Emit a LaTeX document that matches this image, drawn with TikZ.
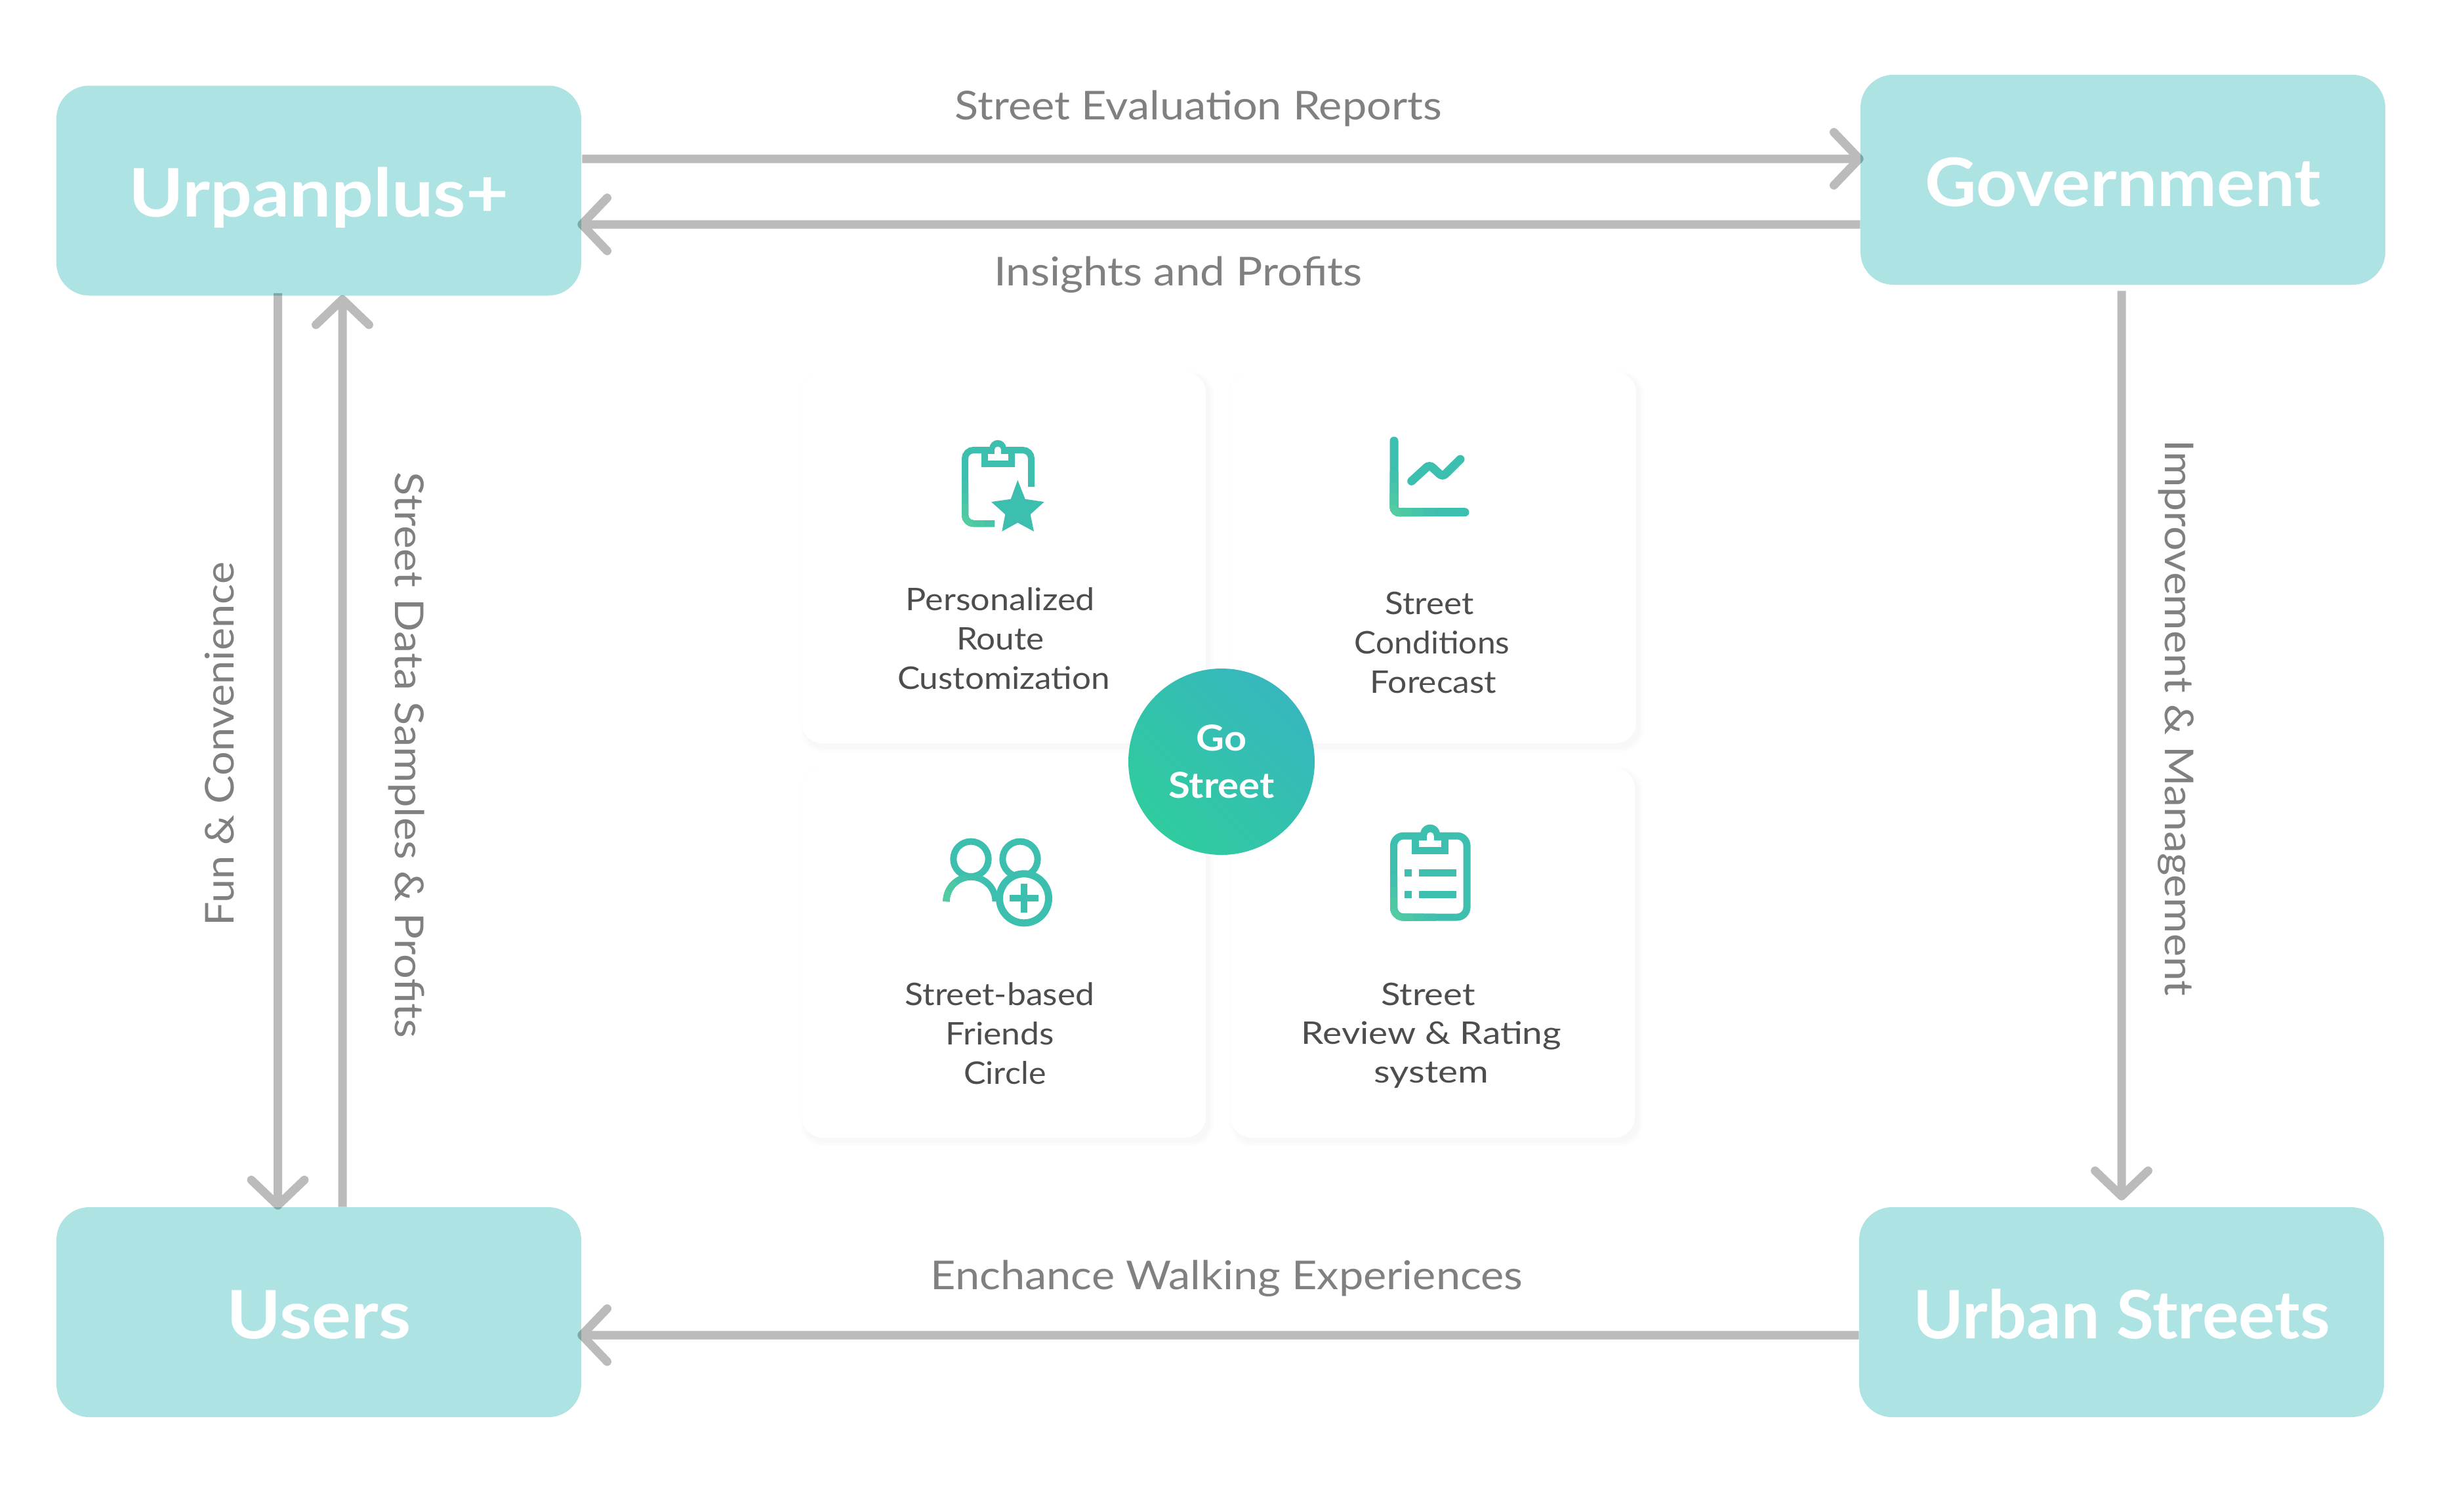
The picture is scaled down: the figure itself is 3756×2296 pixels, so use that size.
\documentclass[tikz,border=0pt]{standalone}
\usepackage{fontspec}
\setmainfont{Lato}
\usetikzlibrary{arrows.meta,calc}
\newlength\pxu \setlength\pxu{0.02cm}
\definecolor{boxfill}{HTML}{AEE3E3}
\definecolor{labelgray}{HTML}{808080}
\definecolor{cardtext}{HTML}{4D4D4D}
\definecolor{icon}{HTML}{3DBFB0}
\definecolor{ic1}{HTML}{41C1AD}
\definecolor{ic2}{HTML}{46C4A9}
\definecolor{ic3}{HTML}{4CC8A5}
\definecolor{ic4}{HTML}{53CCA1}
\definecolor{circA}{HTML}{37B7BE}
\definecolor{circB}{HTML}{2FCC9E}
\newcommand\pad[1]{\hspace*{#1\pxu}}
\newcommand\st[1]{\addfontfeatures{FakeStretch=#1}}
\newcommand\glow[3]{\foreach \r/\c in {70/ic1,52/ic2,35/ic3,18/ic4}{\begin{scope}\clip (#1,#2) circle[radius=\r];\draw[iconline,draw=\c] #3;\end{scope}}}
\tikzset{
  actor/.style={fill=boxfill,rounded corners=50\pxu,minimum width=800\pxu,minimum height=320\pxu,inner sep=0pt,text=white,
    font=\fontsize{58}{60}\selectfont\bfseries,text depth=0pt},
  flow/.style={line width=13\pxu,draw=black,-{Straight Barb[length=22pt,width=46pt,line cap=round,round]}},
  flowlabel/.style={text=labelgray,inner sep=0pt,font=\fontsize{34.5}{36}\selectfont},
  card/.style={fill=white,rounded corners=32\pxu,inner sep=0pt},
  cardlabel/.style={text=cardtext,inner sep=0pt,align=center,font=\fontsize{27}{34}\selectfont},
  hub/.style={circle,minimum size=284\pxu,inner sep=0pt,top color=circA,bottom color=circB,shading angle=-45,text=white,align=center,
    font=\fontsize{31}{41}\selectfont\bfseries},
  iconline/.style={draw=icon,line width=10\pxu,rounded corners=13\pxu},
  iconfill/.style={fill=icon,draw=none},
  iconhole/.style={fill=white,draw=none},
}
\newcommand\cardshadow[4]{\foreach \s in {1,...,7}{\fill[black,opacity=.0055,rounded corners=32\pxu] (#1+5-\s,#2+6-\s) rectangle (#3+5+\s,#4+6+\s);}}
\begin{document}
\begin{tikzpicture}[x=0.02cm,y=-0.02cm]
\useasboundingbox (0,0) rectangle (3756,2296);
\fill[white] (0,0) rectangle (3756,2296);

% cards
\cardshadow{1222}{567}{1838}{1133}
\cardshadow{1875}{567}{2494}{1133}
\cardshadow{1222}{1170}{1838}{1734}
\cardshadow{1876}{1170}{2492}{1734}
\node[card,minimum width=616\pxu,minimum height=566\pxu] (c1) at (1530,850) {};
\node[card,minimum width=619\pxu,minimum height=566\pxu] (c2) at (2184.5,850) {};
\node[card,minimum width=616\pxu,minimum height=564\pxu] (c3) at (1530,1452) {};
\node[card,minimum width=616\pxu,minimum height=564\pxu] (c4) at (2184,1452) {};

% card texts
\node[cardlabel,anchor=base] (t1) at (1525,1050) {\st{1.10}Personalized\\\st{1.08}Route\\\st{1.08}\pad{10}Customization};
\node[cardlabel,anchor=base] (t2) at (2183,1056) {\st{1.08}\pad{-8}Street\\\st{1.05}Conditions\\\st{1.09}\pad{4}Forecast};
\node[cardlabel,anchor=base] (t3) at (1524,1652) {\st{1.09}Street-based\\\st{1.09}Friends\\\st{1.06}\pad{16}Circle};
\node[cardlabel,anchor=base,font=\fontsize{27}{33.5}\selectfont] (t4) at (2182,1650) {\st{1.15}\pad{-10}Street\\\st{1.16}Review \& Rating\\\st{1.2}system};

% icon 1: clipboard with star
\draw[iconline] (1516,798) -- (1471,798) -- (1471,686) -- (1572,686) -- (1572,742);
\glow{1466}{803}{(1516,798) -- (1471,798) -- (1471,686) -- (1572,686) -- (1572,742)}
\fill[iconfill] (1496,686) rectangle (1547,712);
\fill[iconfill] (1521,683.5) circle[radius=12.8];
\fill[iconhole] (1505.7,691.7) rectangle (1536.7,701.7);
\fill[iconhole] (1516,685.7) rectangle (1526,692);
\fill[iconhole] (1521,685.7) circle[radius=5];
\fill[iconfill] (1551.3,731.7) -- (1562.7,760.7) -- (1591.7,765) -- (1570.7,784) -- (1576,810) -- (1551.3,796.7)
  -- (1527.3,810) -- (1532.3,784) -- (1511,765) -- (1540.7,760.7) -- cycle;

% icon 2: chart
\draw[iconline,line width=13\pxu,line cap=round,rounded corners=8\pxu] (2125,672) -- (2125,780.7) -- (2233,780.7);
\glow{2118}{787}{[line width=13\pxu,line cap=round,rounded corners=8\pxu] (2125,672) -- (2125,780.7) -- (2233,780.7)}
\draw[iconline,line width=13\pxu,line cap=round,rounded corners=6\pxu] (2151.7,733.3) -- (2179,708.3) -- (2199,726.7) -- (2226,700);

% icon 3: friends
\draw[iconline,rounded corners=0pt] (1480,1309.3) circle[radius=26.7];
\draw[iconline,rounded corners=0pt] (1555,1309.3) circle[radius=26.7];
\draw[iconline,rounded corners=0pt] (1442.5,1374) arc[start angle=180,end angle=360,radius=37.5];
\glow{1437}{1374}{[rounded corners=0pt] (1442.5,1374) arc[start angle=180,end angle=360,radius=37.5]}
\draw[iconline,rounded corners=0pt,line width=11\pxu,fill=white] (1561,1369.3) circle[radius=37.5];
\fill[iconfill] (1539.3,1364) rectangle (1582.7,1374);
\fill[iconfill] (1556,1347.3) rectangle (1566,1390.7);

% icon 4: clipboard with list
\draw[iconline,line width=11\pxu,rounded corners=15\pxu] (2180,1274) -- (2236,1274) -- (2236,1398) -- (2124.5,1398) -- (2124.5,1274) -- cycle;
\glow{2119}{1403}{[line width=11\pxu,rounded corners=15\pxu] (2180,1274) -- (2236,1274) -- (2236,1398) -- (2124.5,1398) -- (2124.5,1274) -- cycle}
\fill[iconfill] (2151.7,1274) rectangle (2208.3,1302.3);
\fill[iconfill] (2180,1271.7) circle[radius=15];
\fill[iconhole] (2163.3,1280.7) rectangle (2197.3,1291);
\fill[iconhole] (2175,1274) rectangle (2185.7,1281);
\fill[iconhole] (2180.3,1273.7) circle[radius=5.3];
\fill[iconfill] (2141,1325) rectangle (2151.7,1335.7);
\fill[iconfill] (2163.3,1325) rectangle (2220,1335.7);
\fill[iconfill] (2141,1358.3) rectangle (2151.7,1369.3);
\fill[iconfill] (2163.3,1358.3) rectangle (2220,1369.3);

% hub
\node[hub] (hub) at (1862,1161) {\st{1.09}Go\\\st{1.1}Street};

% actors
\node[actor,text height=80\pxu] (ur) at (486,290.5) {\st{1.105}Urpanplus+};
\node[actor,text height=80\pxu] (gov) at (3236,274) {\st{1.065}Government};
\node[actor,text height=80\pxu] (users) at (486,2000) {\st{1.10}Users};
\node[actor,text height=80\pxu] (urban) at (3234,2000) {\st{1.02}Urban Streets};

% flows
\begin{scope}[transparency group,opacity=.267]
\draw[flow] ([xshift=1\pxu,yshift=48.5\pxu]ur.east) -- ([xshift=5\pxu,yshift=32\pxu]gov.west);
\draw[flow] ([yshift=-68\pxu]gov.west) -- ([xshift=-6\pxu,yshift=-51.5\pxu]ur.east);
\draw[flow] ([xshift=-62.5\pxu,yshift=4\pxu]ur.south) -- ([xshift=-62.5\pxu,yshift=-4\pxu]users.north);
\draw[flow] ([xshift=36\pxu]users.north) -- ([xshift=36\pxu,yshift=1\pxu]ur.south);
\draw[flow] ([xshift=-2\pxu,yshift=-9\pxu]gov.south) -- ([yshift=10\pxu]urban.north);
\draw[flow] ([yshift=-35\pxu]urban.west) -- ([xshift=-6\pxu,yshift=-35\pxu]users.east);
\end{scope}

% flow labels
\node[flowlabel] (l1) at (1827,165) {\st{1.10}Street Evaluation Reports};
\node[flowlabel] (l2) at (1796,419) {\st{1.11}Insights and Profits};
\node[flowlabel] (l3) at (1870,1949) {\st{1.10}Enchance Walking Experiences};
\node[flowlabel,rotate=90] (l4) at (335,1134) {\st{1.07}Fun \& Convenience};
\node[flowlabel,rotate=-90] (l5) at (620,1151) {\st{1.10}Street Data Samples \& Profits};
\node[flowlabel,rotate=-90] (l6) at (3317,1094) {\st{1.09}Improvement \& Management};
\end{tikzpicture}
\end{document}
